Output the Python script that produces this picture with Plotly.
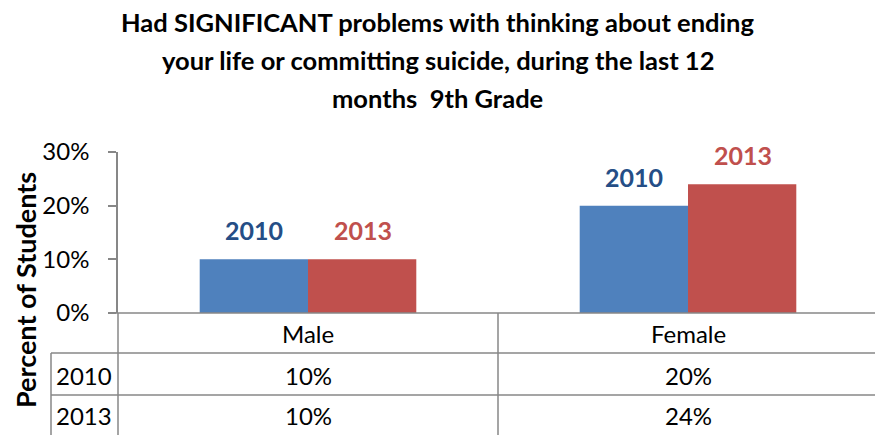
import plotly.graph_objects as go

title_lines = ["Had SIGNIFICANT problems with thinking about ending",
               "your life or committing suicide, during the last 12",
               "months  9th Grade"]
categories = ["Male", "Female"]
years = ["2010", "2013"]
values = {"2010": [10, 20], "2013": [10, 24]}
bar_colors = {"2010": "#4F81BD", "2013": "#C0504D"}
label_colors = {"2010": "#254E86", "2013": "#C0504D"}
y_ticks = [0, 10, 20, 30]
y_title = "Percent of Students"

FONT = "Lato"
W, H = 875, 435
L, T, B = 118, 152, 122
plot_w = W - L
plot_h = H - T - B
grid = "#878787"


def px_y(py):
    # pixel row -> paper y
    return (H - B - py) / plot_h


def px_x(px):
    return (px - L) / plot_w


fig = go.Figure()
for yr in years:
    fig.add_trace(go.Bar(x=list(range(len(categories))), y=values[yr], name=yr,
                         marker_color=bar_colors[yr], marker_line_width=0))

fig.update_layout(
    width=W, height=H, barmode="group", bargap=0.43, bargroupgap=0,
    margin=dict(l=L, r=0, t=T, b=B),
    plot_bgcolor="white", paper_bgcolor="white", showlegend=False,
    font=dict(family=FONT, color="black"),
    xaxis=dict(range=[-0.5, -0.5 + plot_w / 380], showticklabels=False, showgrid=False,
               zeroline=False, showline=False, fixedrange=True),
    yaxis=dict(range=[0, 30], tickvals=y_ticks, ticktext=[f"{v}%" for v in y_ticks],
               showgrid=False, zeroline=False, showline=True, linecolor=grid, linewidth=1.5,
               ticks="outside", ticklen=8, tickcolor=grid, tickwidth=1.5,
               tickfont=dict(size=24, family=FONT), ticklabelstandoff=14),
)


def note(text, x, y, xref="paper", yref="paper", **kw):
    fig.add_annotation(text=text, x=x, y=y, xref=xref, yref=yref, showarrow=False,
                       xanchor=kw.pop("xanchor", "center"), yanchor=kw.pop("yanchor", "middle"),
                       **kw)


# title, centred on the page
for i, line in enumerate(title_lines):
    note(f"<b>{line}</b>", px_x(W / 2), px_y(22 + 38 * i), font=dict(size=25.5, family=FONT))

# y axis title
note(f"<b>{y_title}</b>", px_x(25), px_y(290), textangle=-90, font=dict(size=27, family=FONT))

# series labels above bars
for k, yr in enumerate(years):
    shift = -54.5 if k == 0 else 54.5
    for i, v in enumerate(values[yr]):
        note(f"<b>{yr}</b>", i, v, xref="x", yref="y", xshift=shift, yshift=12,
             yanchor="bottom", font=dict(size=25, family=FONT, color=label_colors[yr]))

# data table
line_style = dict(color=grid, width=1.5)
y_rows = [px_y(313), px_y(353), px_y(395), px_y(436)]
fig.add_shape(type="line", xref="paper", yref="paper", x0=px_x(110), x1=1,
              y0=y_rows[0], y1=y_rows[0], line=line_style)
for yy in y_rows[1:3]:
    fig.add_shape(type="line", xref="paper", yref="paper", x0=px_x(51), x1=1,
                  y0=yy, y1=yy, line=line_style)
fig.add_shape(type="line", xref="paper", yref="paper", x0=0, x1=0,
              y0=y_rows[0], y1=y_rows[3], line=line_style)
fig.add_shape(type="line", xref="paper", yref="paper", x0=px_x(51), x1=px_x(51),
              y0=y_rows[1], y1=y_rows[3], line=line_style)
for i in range(len(categories) - 1):
    fig.add_shape(type="line", xref="x", yref="paper", x0=i + 0.5, x1=i + 0.5,
                  y0=y_rows[0], y1=y_rows[3], line=line_style)

cell_font = dict(size=24, family=FONT)
for i, c in enumerate(categories):
    note(c, i, px_y(333), xref="x", font=cell_font)
for r, yr in enumerate(years):
    yy = px_y(375 + 40 * r)
    note(yr, px_x(84), yy, font=cell_font)
    for i, v in enumerate(values[yr]):
        note(f"{v}%", i, yy, xref="x", font=cell_font)

fig.write_html("out.html", config={"displayModeBar": False},
               post_script="document.body.style.margin='0';")
